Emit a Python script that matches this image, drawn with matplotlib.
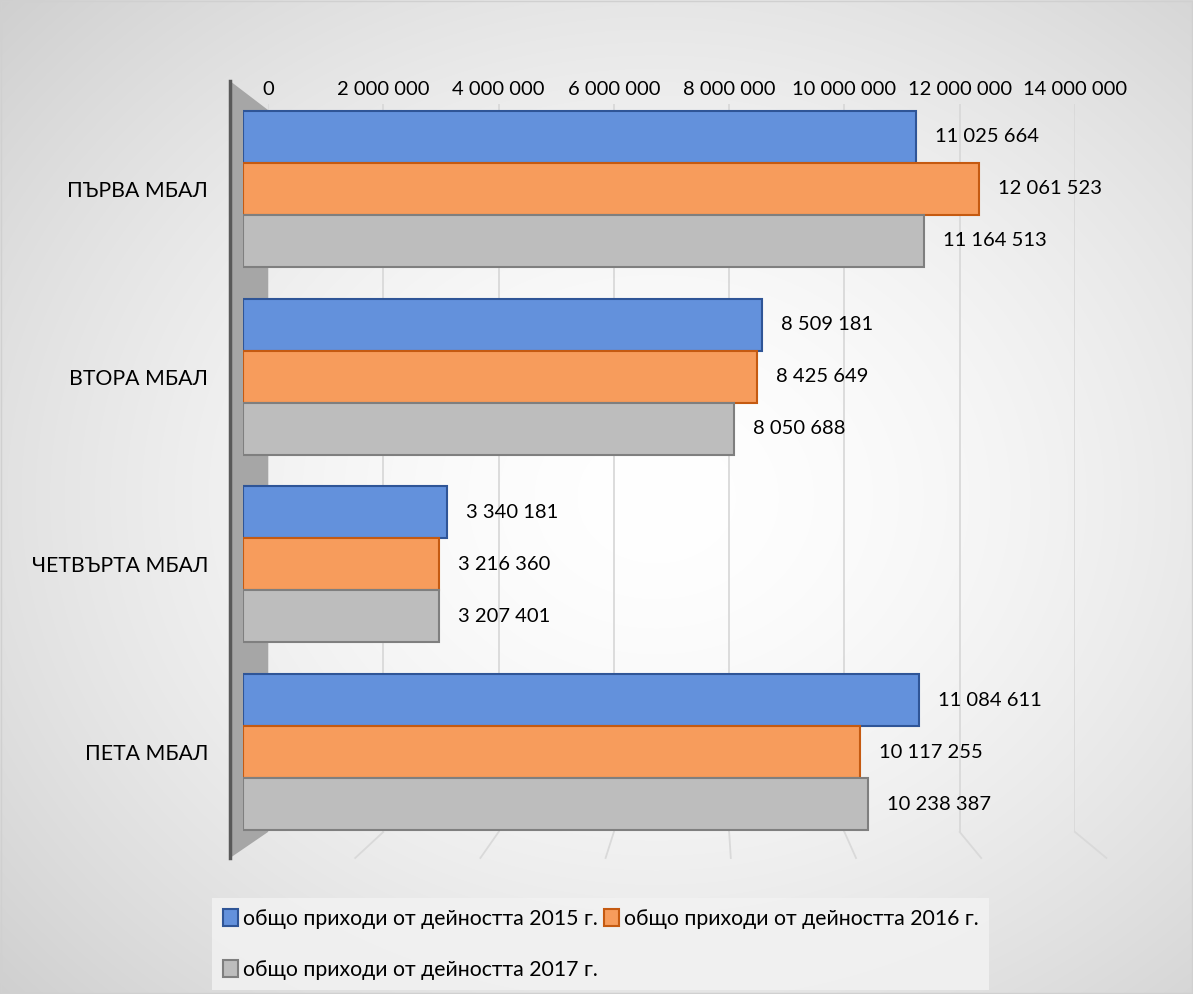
import numpy as np
import matplotlib
matplotlib.use("Agg")
import matplotlib.pyplot as plt
from matplotlib.patches import Rectangle, Polygon
from matplotlib.ticker import FuncFormatter

categories = ["ПЪРВА МБАЛ", "ВТОРА МБАЛ", "ЧЕТВЪРТА МБАЛ", "ПЕТА МБАЛ"]
series_names = ["общо приходи от дейността 2015 г.",
                "общо приходи от дейността 2016 г.",
                "общо приходи от дейността 2017 г."]
v2015 = [11025664, 8509181, 3340181, 11084611]
v2016 = [12061523, 8425649, 3216360, 10117255]
v2017 = [11164513, 8050688, 3207401, 10238387]
xticks = [0, 2000000, 4000000, 6000000, 8000000, 10000000, 12000000, 14000000]
XMAX = 14000000

FONT = ['Lato', 'DejaVu Sans']
plt.rcParams['font.family'] = FONT
FS = 14.5
FS2 = 15.3

W, H = 1193, 994
fig = plt.figure(figsize=(W / 100, H / 100), dpi=100)

def fmt(v):
    return f"{int(v):,}".replace(",", " ")

# radial gradient background
bg = fig.add_axes([0, 0, 1, 1], zorder=-10)
yy, xx = np.mgrid[0:H, 0:W]
r = np.sqrt(((xx - W * 0.55) / (W * 0.75)) ** 2 + ((yy - H * 0.50) / (H * 0.75)) ** 2)
g = np.clip(1.0 - 0.19 * r ** 1.6, 0, 1)
bg.imshow(np.dstack([g, g, g]), aspect='auto', extent=[0, W, H, 0])
bg.set_xlim(0, W); bg.set_ylim(H, 0)
bg.axis('off')
bg.add_patch(Rectangle((1, 1), W - 2, H - 2, fill=False, ec='#d0d0d0', lw=1))
# left wall
bg.add_patch(Polygon([(230, 81), (268, 110), (268, 832), (230, 858)],
                     closed=True, fc='#a6a6a6', ec='none', zorder=2))
bg.plot([230, 230], [81, 858], color='#595959', lw=2.5, zorder=3)

# back wall axes: gridlines + tick labels
bl, br, bt, bb = 268, 1075, 104, 832
bax = fig.add_axes([bl / W, 1 - bb / H, (br - bl) / W, (bb - bt) / H], zorder=-5)
bax.set_facecolor('none')
bax.set_xlim(0, XMAX)
bax.set_ylim(0, 1)
bax.set_xticks(xticks)
bax.xaxis.set_major_formatter(FuncFormatter(lambda v, p: fmt(v)))
bax.xaxis.tick_top()
bax.tick_params(axis='x', length=0, labelsize=FS, pad=4)
bax.set_yticks([])
bax.grid(axis='x', color='#d9d9d9', lw=1.3)
for s in bax.spines.values():
    s.set_visible(False)

# floor lines (perspective) from back to front
fl, fr = 230, 230 + 62.6 * 14
fax = fig.add_axes([0, 0, 1, 1], zorder=-6)
fax.set_xlim(0, W); fax.set_ylim(H, 0); fax.axis('off')
for t in xticks[1:]:
    xb = bl + (br - bl) * t / XMAX
    xf = fl + (fr - fl) * t / XMAX
    fax.plot([xb, xf], [bb, 858], color='#d9d9d9', lw=1.3)

# front axes: bars
left, right, top, bottom = 243, 243 + 61 * 14, 95, 846
ax = fig.add_axes([left / W, 1 - bottom / H, (right - left) / W, (bottom - top) / H])
ax.set_facecolor('none')

y = np.arange(len(categories))
h = 0.277
fills = ['#6391dc', '#f79c5c', '#bdbdbd']
edges = ['#2f5597', '#c55a11', '#7f7f7f']
bars = []
for i, vals in enumerate([v2015, v2016, v2017]):
    pos = y + (i - 1) * h
    b = ax.barh(pos, vals, height=h, color=fills[i], edgecolor=edges[i], lw=1.5,
                label=series_names[i], zorder=3)
    bars.append(b)
    for p, v in zip(pos, vals):
        ax.annotate(fmt(v), (v, p), xytext=(19, 0), textcoords='offset pixels',
                    va='center', ha='left', fontsize=FS, color='#000000')

ax.set_xlim(0, XMAX)
ax.set_ylim(3.5, -0.5)
ax.set_xticks([])
ax.tick_params(axis='y', length=0, labelsize=FS2, pad=25)
ax.set_yticks(y)
ax.set_yticklabels(categories)
for s in ax.spines.values():
    s.set_visible(False)

order = [0, 2, 1]
leg = fig.legend([bars[k] for k in order], [series_names[k] for k in order],
                 loc='upper left', bbox_to_anchor=(212 / W, 1 - 898 / H), ncol=2,
                 fontsize=FS2, frameon=True, fancybox=False, borderpad=0.5,
                 handlelength=0.7, handleheight=0.9, handletextpad=0.25,
                 columnspacing=0.3, labelspacing=1.45, borderaxespad=0)
leg.get_frame().set_facecolor('#f2f2f2')
leg.get_frame().set_edgecolor('none')
leg.get_frame().set_alpha(0.85)

fig.savefig('out.png', dpi=100)
